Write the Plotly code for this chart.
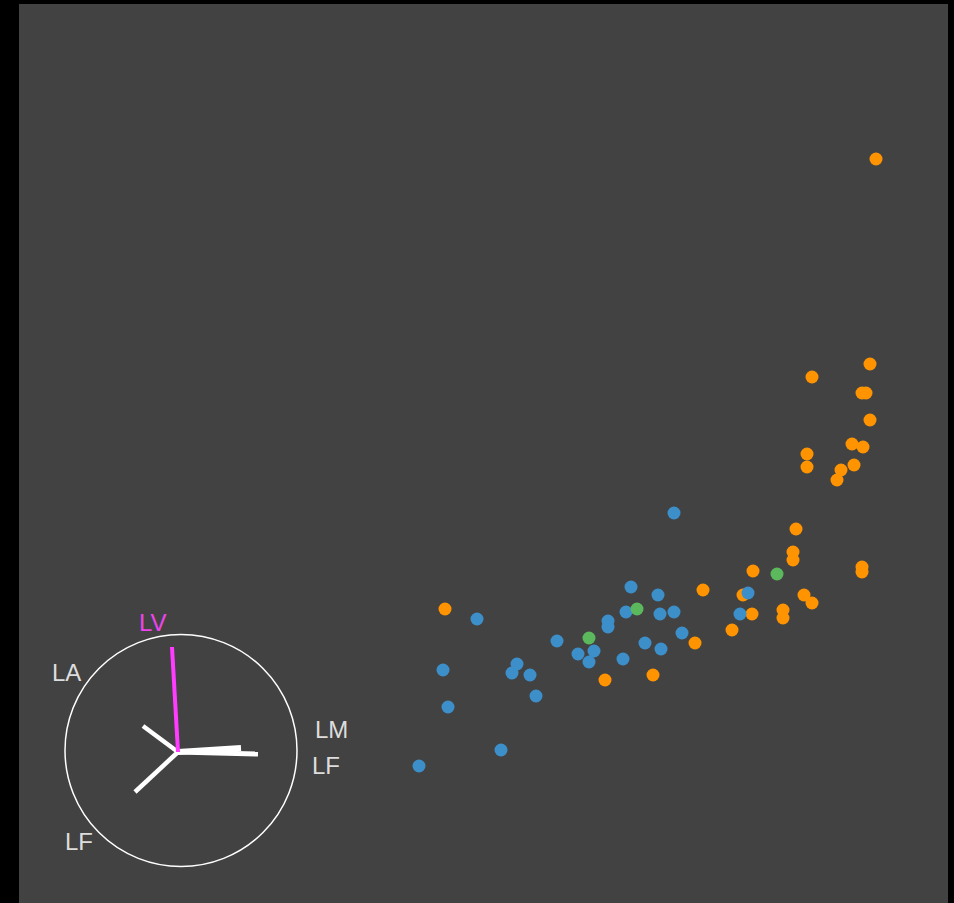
import plotly.graph_objects as go

# Point positions (pixel-space units of the plot)
blue_x = [477, 443, 448, 501, 419, 517, 512, 530, 536, 557, 578, 594, 589, 608, 608,
          631, 658, 626, 660, 674, 682, 645, 661, 623, 674, 748, 740]
blue_y = [619, 670, 707, 750, 766, 664, 673, 675, 696, 641, 654, 651, 662, 621, 627,
          587, 595, 612, 614, 612, 633, 643, 649, 659, 513, 593, 614]

orange_x = [445, 605, 653, 695, 703, 876, 870, 812, 862, 866, 870, 852, 863, 807, 807,
            854, 841, 837, 796, 793, 793, 862, 862, 753, 743, 804, 812, 752, 783, 783, 732]
orange_y = [609, 680, 675, 643, 590, 159, 364, 377, 393, 393, 420, 444, 447, 454, 467,
            465, 470, 480, 529, 552, 560, 567, 572, 571, 595, 595, 603, 614, 610, 618, 630]

green_x = [589, 637, 777]
green_y = [638, 609, 574]

# Compass decoration
circle_center = (181, 750.5)
circle_radius = 116
hub = (178, 752)
white_ends = [(258, 754), (241, 748), (143, 726), (135, 792)]
white_widths = [5, 6, 4.5, 4.5]
magenta_end = (172, 647)
labels = ["LV", "LA", "LM", "LF", "LF"]
label_x = [153, 66, 331, 326, 79]
label_y = [622, 672, 729, 765, 841]
label_colors = ["#ee44ee", "#dddddd", "#dddddd", "#dddddd", "#dddddd"]

fig = go.Figure()
fig.add_trace(go.Scatter(x=orange_x, y=orange_y, mode="markers",
                         marker=dict(size=13, color="#ff9400", line=dict(width=0)), showlegend=False))
fig.add_trace(go.Scatter(x=blue_x, y=blue_y, mode="markers",
                         marker=dict(size=13, color="#3d8fca", line=dict(width=0)), showlegend=False))
fig.add_trace(go.Scatter(x=green_x, y=green_y, mode="markers",
                         marker=dict(size=13, color="#5cb85c", line=dict(width=0)), showlegend=False))

shapes = []
cx, cy = circle_center
shapes.append(dict(type="circle", xref="x", yref="y",
                   x0=cx - circle_radius, x1=cx + circle_radius,
                   y0=cy - circle_radius, y1=cy + circle_radius,
                   line=dict(color="white", width=1.5)))
for (ex, ey), w in zip(white_ends, white_widths):
    shapes.append(dict(type="line", xref="x", yref="y", x0=hub[0], y0=hub[1], x1=ex, y1=ey,
                       line=dict(color="white", width=w)))
shapes.append(dict(type="line", xref="x", yref="y", x0=hub[0], y0=hub[1],
                   x1=magenta_end[0], y1=magenta_end[1],
                   line=dict(color="#ff3cff", width=4)))

annotations = []
for t, lx, ly, c in zip(labels, label_x, label_y, label_colors):
    annotations.append(dict(x=lx, y=ly, xref="x", yref="y", text=t, showarrow=False,
                            xanchor="center", yanchor="middle",
                            font=dict(family="Liberation Sans, Arial, sans-serif", size=24, color=c)))

fig.update_layout(
    width=954, height=903,
    margin=dict(l=19, r=6, t=4, b=0, pad=0),
    paper_bgcolor="black",
    plot_bgcolor="#424242",
    shapes=shapes,
    annotations=annotations,
    xaxis=dict(range=[19, 948], visible=False, showgrid=False, zeroline=False, fixedrange=True),
    yaxis=dict(range=[903, 4], visible=False, showgrid=False, zeroline=False, fixedrange=True),
    showlegend=False,
    hovermode=False,
)

fig.write_html("out.html", config={"displayModeBar": False},
               post_script="document.body.style.margin='0';document.body.style.background='black';")
